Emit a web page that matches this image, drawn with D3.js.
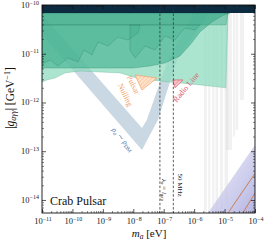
<!DOCTYPE html>
<html><head><meta charset="utf-8">
<script src="https://cdn.jsdelivr.net/npm/d3@7"></script>
<style>html,body{margin:0;padding:0;background:#fff;}svg{display:block;font-family:"Liberation Serif","DejaVu Serif",serif;}</style>
</head><body>
<script>
// ---- data (mass in eV, coupling in GeV^-1) ----
const xDomain = [1e-11, 1e-4];
const yDomain = [1e-10, 5.4e-15];
const xTickExps = [-11, -10, -9, -8, -7, -6, -5, -4];
const yTickExps = [-10, -11, -12, -13, -14];
const vBand = [[4.0e-12,1.24e-10],[1.93e-8,3.0e-13],[2.8e-8,4.4e-13],[1.38e-7,7.45e-12],[7.3e-7,4.9e-11],[1.15e-6,1.1e-10],[3.86e-6,1.1e-10],[2.3e-6,4.9e-11],[2.73e-7,7.45e-12],[6.5e-8,4.4e-13],[1.93e-8,1.06e-13],[1.0e-11,2.47e-11],[1.89e-12,8.2e-11]];
const lightRegion = [[1e-11,6.85e-11],[1.3e-5,6.85e-11],[1.11e-5,2.0e-12],[1.55e-6,2.29e-12],[7.5e-8,2.76e-12],[1.66e-8,3.03e-12],[3.7e-9,4.03e-12],[8.0e-10,4.22e-12],[1.77e-10,4.43e-12],[5.7e-11,4.03e-12],[2.67e-11,3.18e-12],[1.46e-11,2.9e-12],[1e-11,2.63e-12]];
const darkRegion = [[1e-11,6.85e-11],[1.5e-5,6.85e-11],[8.2e-6,5.94e-11],[3.86e-6,4.5e-11],[1.55e-6,2.79e-11],[7.3e-7,1.51e-11],[3.43e-7,9.0e-12],[1.1e-7,6.46e-12],[3.54e-8,5.6e-12],[9.8e-9,5.1e-12],[1e-11,5.1e-12]];
const topRegion = [[1e-11,6.85e-11],[1.3e-5,6.85e-11],[1.11e-5,3.9e-11],[1e-11,3.9e-11]];
const jagRegionA = [[1e-11,3.9e-11],[1.66e-8,3.9e-11],[1.43e-8,2.67e-11],[6.7e-9,1.91e-11],[3.15e-9,2.2e-11],[1.48e-9,1.44e-11],[6.9e-10,1.74e-11],[4.4e-10,9.4e-12],[2.4e-10,1.19e-11],[1.52e-10,6.8e-12],[7.1e-11,8.2e-12],[3.36e-11,5.6e-12],[1.83e-11,7.45e-12],[1e-11,6.17e-12]];
const jagRegionB = [[7.8e-9,3.9e-11],[1.55e-6,3.9e-11],[1.07e-6,3.07e-11],[5.0e-7,3.37e-11],[2.35e-7,1.91e-11],[1.1e-7,2.31e-11],[5.2e-8,1.19e-11],[2.43e-8,1.44e-11],[1.14e-8,8.2e-12],[7.8e-9,1.19e-11]];
const topBand = [[1e-11,1e-10],[1e-4,1e-10],[1e-4,6.85e-11],[1e-11,6.85e-11]];
const pulsarNulling = [[1.14e-8,3.67e-12],[6.0e-8,3.18e-12],[1.93e-8,1.8e-12]];
const radioLine = [[2.0e-7,2.9e-12],[4.3e-7,2.9e-12],[2.35e-7,2.0e-12]];
const haloStripes = [[2.1e-6,2.6e-6,6.85e-11,5.4e-15],[2.9e-6,3.4e-6,6.85e-11,5.4e-15],[3.9e-6,4.6e-6,6.85e-11,5.4e-15],[5.0e-6,6.2e-6,6.85e-11,5.4e-15],[7.1e-6,8.9e-6,6.85e-11,5.4e-15],[1.0e-5,1.3e-5,6.85e-11,8e-15],[1.1e-5,1.75e-5,6.85e-11,1.06e-13],[1.9e-5,2.2e-5,6.85e-11,2.0e-13],[2.3e-5,2.8e-5,6.85e-11,2.73e-13],[3.2e-5,4.35e-5,6.85e-11,1.12e-12]];
const purpleRegion = [[2.85e-6,5.4e-15],[1e-4,5.4e-15],[1e-4,1.34e-13]];
const orangeLine1 = [[1.3e-5,5.4e-15],[1e-4,3.5e-14]];
const orangeLine2 = [[4.0e-5,5.4e-15],[1e-4,1.39e-14]];
const dashedMasses = [7.5e-8, 2.07e-7];

const W = 266, H = 243;
const L = 42, R = 255, T = 5, B = 213;
const x = d3.scaleLog().domain(xDomain).range([L, R]);
const y = d3.scaleLog().domain(yDomain).range([T, B]);
const line = d3.line().x(d => x(d[0])).y(d => y(d[1]));
const poly = pts => line(pts) + "Z";

const svg = d3.select("body").append("svg").attr("width", W).attr("height", H);
const defs = svg.append("defs");
defs.append("clipPath").attr("id", "clip").append("rect").attr("x", L).attr("y", T).attr("width", R - L).attr("height", B - T);
const hatch = (id, bg, fg) => {
  const p = defs.append("pattern").attr("id", id).attr("patternUnits", "userSpaceOnUse").attr("width", 3).attr("height", 3).attr("patternTransform", "rotate(45)");
  p.append("rect").attr("width", 3).attr("height", 3).attr("fill", bg);
  p.append("line").attr("x1", 0).attr("y1", 0).attr("x2", 0).attr("y2", 3).attr("stroke", fg).attr("stroke-width", 0.8);
};
hatch("hOr", "#fde2cc", "#f2a46a");
hatch("hRd", "#f7c6cc", "#d9606f");
const grad = defs.append("linearGradient").attr("id", "gPur").attr("x1", "0%").attr("y1", "0%").attr("x2", "100%").attr("y2", "100%");
grad.append("stop").attr("offset", "0%").attr("stop-color", "#d8d8f0").attr("stop-opacity", 0.1);
grad.append("stop").attr("offset", "50%").attr("stop-color", "#c4c4ea").attr("stop-opacity", 0.7);
grad.append("stop").attr("offset", "100%").attr("stop-color", "#b0b0e0").attr("stop-opacity", 0.95);

const g = svg.append("g").attr("clip-path", "url(#clip)");

// V band
g.append("path").attr("d", poly(vBand)).attr("fill", "#c9d8e2");
// haloscope stripes
g.selectAll("rect.hs").data(haloStripes).enter().append("rect").attr("class", "hs")
  .attr("x", d => x(d[0])).attr("width", d => x(d[1]) - x(d[0]))
  .attr("y", d => y(d[2])).attr("height", d => y(d[3]) - y(d[2]))
  .attr("fill", "#cfcfcf").attr("fill-opacity", 0.3);
// green regions
g.append("path").attr("d", poly(lightRegion)).attr("fill", "#8fdcc0").attr("fill-opacity", 0.75).attr("stroke", "#3f9d80").attr("stroke-opacity", 0.5).attr("stroke-width", 0.5);
g.append("path").attr("d", poly(darkRegion)).attr("fill", "#35ab86").attr("fill-opacity", 0.55).attr("stroke", "#2a7f64").attr("stroke-opacity", 0.6).attr("stroke-width", 0.5);
g.append("path").attr("d", poly(topRegion)).attr("fill", "#2f9f7c").attr("fill-opacity", 0.35).attr("stroke", "#2a7f64").attr("stroke-opacity", 0.5).attr("stroke-width", 0.5);
[jagRegionA, jagRegionB].forEach(r => g.append("path").attr("d", poly(r)).attr("fill", "#2fa37f").attr("fill-opacity", 0.25).attr("stroke", "#23705a").attr("stroke-opacity", 0.5).attr("stroke-width", 0.5));
// purple region
g.append("path").attr("d", poly(purpleRegion)).attr("fill", "url(#gPur)");
[orangeLine1, orangeLine2].forEach(l => g.append("path").attr("d", line(l)).attr("fill", "none").attr("stroke", "#c8774a").attr("stroke-width", 0.9));
// hatched regions
g.append("path").attr("d", poly(pulsarNulling)).attr("fill", "url(#hOr)").attr("stroke", "#f2a46a").attr("stroke-width", 0.7);
g.append("path").attr("d", poly(radioLine)).attr("fill", "url(#hRd)").attr("stroke", "#d9606f").attr("stroke-width", 0.7);
// top band
g.append("path").attr("d", poly(topBand)).attr("fill", "#0c2b40");
// dashed lines
g.selectAll("line.dl").data(dashedMasses).enter().append("line").attr("class", "dl")
  .attr("x1", d => x(d)).attr("x2", d => x(d)).attr("y1", T).attr("y2", B)
  .attr("stroke", "#333").attr("stroke-width", 0.8).attr("stroke-dasharray", "2.5,1.8");

// labels inside
const lab = (px, py, rot, color, size) => svg.append("text").attr("transform", `translate(${px},${py}) rotate(${rot})`)
    .attr("text-anchor", "middle").attr("fill", color).attr("font-size", size);
let t = lab(162, 190, 90, "#222", 7);
t.append("tspan").attr("font-style", "italic").text("λ");
t.append("tspan").attr("font-size", 5).attr("dy", 1.5).attr("font-style", "italic").text("a");
t.append("tspan").attr("dy", -1.5).text(" = ");
t.append("tspan").attr("font-style", "italic").text("l");
t.append("tspan").attr("font-size", 5).attr("dy", 1.5).text("gap");
lab(178, 185, 90, "#222", 7).text("50 MHz");
t = lab(121, 141, 49, "#3f70ad", 7.5);
t.append("tspan").attr("font-style", "italic").text("ρ");
t.append("tspan").attr("font-size", 5.5).attr("dy", 1.5).attr("font-style", "italic").text("a");
t.append("tspan").attr("dy", -1.5).text(" ∼ ");
t.append("tspan").attr("font-style", "italic").text("ρ");
t.append("tspan").attr("font-size", 5.5).attr("dy", 1.5).text("DM");
lab(131, 86, 64, "#f2a46a", 8).text("Pulsar");
lab(123, 96, 64, "#f2a46a", 8).text("Nulling");
lab(188, 89, -50, "#d9606f", 8).text("Radio Line");
svg.append("text").attr("x", 50).attr("y", 205).attr("font-size", 12).attr("fill", "#111").text("Crab Pulsar");

// axes
const minorX = [], minorY = [];
for (let e = -11; e < -4; e++) for (let k = 2; k <= 9; k++) minorX.push(k * Math.pow(10, e));
for (let e = -15; e < -10; e++) for (let k = 2; k <= 9; k++) { const v = k * Math.pow(10, e); if (v >= yDomain[1] && v <= yDomain[0]) minorY.push(v); }
const majX = xTickExps.map(e => Math.pow(10, e)), majY = yTickExps.map(e => Math.pow(10, e));
const axes = [
  [d3.axisBottom(x), majX, minorX, `translate(0,${B})`],
  [d3.axisTop(x), majX, minorX, `translate(0,${T})`],
  [d3.axisLeft(y), majY, minorY, `translate(${L},0)`],
  [d3.axisRight(y), majY, minorY, `translate(${R},0)`]
];
axes.forEach(([ax, maj, min, tr]) => {
  svg.append("g").attr("transform", tr).call(ax.tickValues(maj).tickSize(-4).tickFormat("")).call(s => s.select(".domain").remove()).selectAll("line").attr("stroke", "#111").attr("stroke-width", 0.7);
  svg.append("g").attr("transform", tr).call(ax.tickValues(min).tickSize(-2).tickFormat("")).call(s => s.select(".domain").remove()).selectAll("line").attr("stroke", "#111").attr("stroke-width", 0.5);
});
svg.append("rect").attr("x", L).attr("y", T).attr("width", R - L).attr("height", B - T).attr("fill", "none").attr("stroke", "#111").attr("stroke-width", 0.9);

xTickExps.forEach(e => {
  const tt = svg.append("text").attr("x", x(Math.pow(10, e)) + 1).attr("y", 224).attr("text-anchor", "middle").attr("font-size", 8.5).attr("fill", "#222");
  tt.append("tspan").text("10");
  tt.append("tspan").attr("font-size", 6).attr("dy", -3.5).text("−" + Math.abs(e));
});
yTickExps.forEach(e => {
  const tt = svg.append("text").attr("x", 39).attr("y", y(Math.pow(10, e)) + 3).attr("text-anchor", "end").attr("font-size", 8.5).attr("fill", "#222");
  tt.append("tspan").text("10");
  tt.append("tspan").attr("font-size", 6).attr("dy", -3.5).text("−" + Math.abs(e));
});
t = svg.append("text").attr("transform", "translate(14,98) rotate(-90)").attr("text-anchor", "middle").attr("font-size", 11.5).attr("fill", "#111");
t.append("tspan").text("|");
t.append("tspan").attr("font-style", "italic").text("g");
t.append("tspan").attr("font-style", "italic").attr("font-size", 8).attr("dy", 2).text("aγγ");
t.append("tspan").attr("dy", -2).text("| [GeV");
t.append("tspan").attr("font-size", 8).attr("dy", -4.5).text("−1");
t.append("tspan").attr("dy", 4.5).text("]");
t = svg.append("text").attr("x", 149).attr("y", 237).attr("text-anchor", "middle").attr("font-size", 11).attr("fill", "#111");
t.append("tspan").attr("font-style", "italic").text("m");
t.append("tspan").attr("font-style", "italic").attr("font-size", 7.5).attr("dy", 2).text("a");
t.append("tspan").attr("dy", -2).text(" [eV]");
</script>
</body></html>
